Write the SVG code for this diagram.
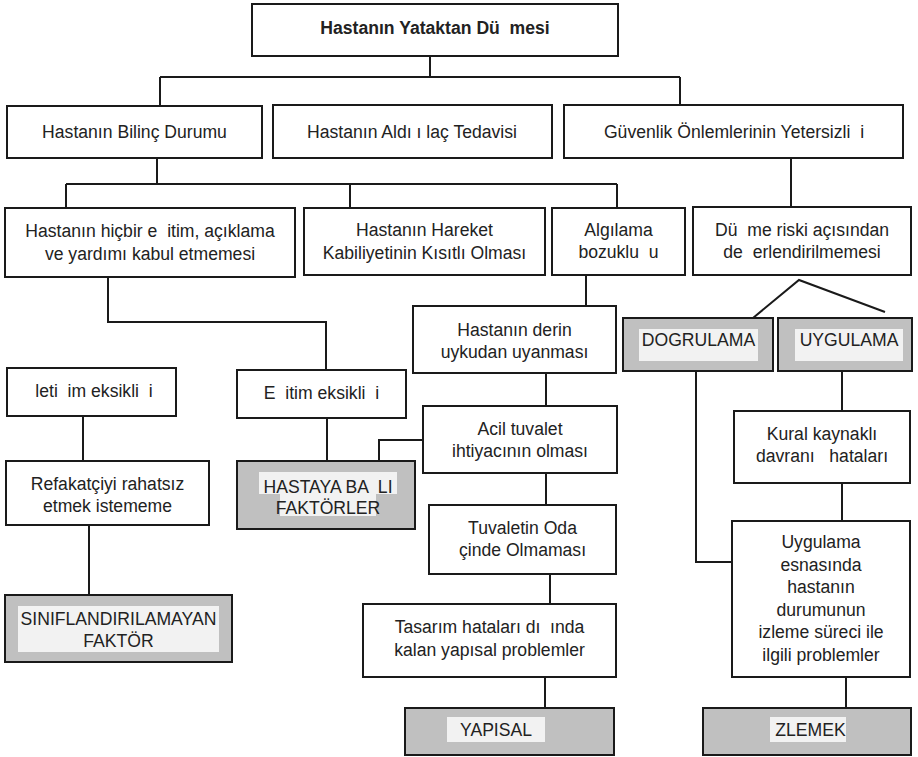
<svg xmlns="http://www.w3.org/2000/svg" width="918" height="757" viewBox="0 0 918 757" xml:space="preserve">
<style>
.box{fill:#fff;stroke:#1a1a1a;stroke-width:2}
.gbox{fill:#c0c0c0;stroke:#1a1a1a;stroke-width:2}
.hl{fill:#f2f2f2}
.t{font-family:"Liberation Sans",Arial,sans-serif;font-size:17.6px;fill:#222;text-anchor:middle;white-space:pre}
.b{font-weight:bold}
.c{fill:none;stroke:#1a1a1a;stroke-width:2}
</style>
<rect width="918" height="757" fill="#fff"/>
<g id="connectors">
<path class="c" d="M430,56 V77 M160,77 H680 M160,77 V106 M680,77 V105"/>
<path class="c" d="M157,158 V184 M66,184 H617 M66,184 V208 M350,184 V208 M617,184 V208"/>
<path class="c" d="M791,158 V207"/>
<path class="c" d="M108,277 V322 H326 V370"/>
<path class="c" d="M327,418 V461"/>
<path class="c" d="M83,416 V461"/>
<path class="c" d="M89,525 V595"/>
<path class="c" d="M586,275 V306"/>
<path class="c" d="M546,373 V406"/>
<path class="c" d="M423,440 H379 V461"/>
<path class="c" d="M546,473 V505"/>
<path class="c" d="M550,574 V604"/>
<path class="c" d="M545,677 V708"/>
<path class="c" d="M753,318 L799,280 L885,312"/>
<path class="c" d="M696,371 V562 H732"/>
<path class="c" d="M842,371 V411"/>
<path class="c" d="M842,483 V521"/>
<path class="c" d="M846,677 V708"/>
</g>
<g id="n-top"><rect class="box" x="252" y="4" width="366" height="52"/><text class="t b" x="435" y="34">Hastanın Yataktan Dü  mesi</text></g>
<g id="n-bilinc"><rect class="box" x="7" y="106" width="255" height="52"/><text class="t" x="134.5" y="138">Hastanın Bilinç Durumu</text></g>
<g id="n-ilac"><rect class="box" x="273" y="105" width="279" height="53"/><text class="t" x="412" y="138">Hastanın Aldı ı laç Tedavisi</text></g>
<g id="n-guvenlik"><rect class="box" x="564" y="105" width="339" height="53"/><text class="t" x="734" y="138">Güvenlik Önlemlerinin Yetersizli  i</text></g>
<g id="n-hicbir"><rect class="box" x="5" y="208" width="290" height="69"/><text class="t" x="150" y="237">Hastanın hiçbir e  itim, açıklama</text><text class="t" x="150" y="259.5">ve yardımı kabul etmemesi</text></g>
<g id="n-hareket"><rect class="box" x="304" y="208" width="241" height="67"/><text class="t" x="424.5" y="236">Hastanın Hareket</text><text class="t" x="424.5" y="258.5">Kabiliyetinin Kısıtlı Olması</text></g>
<g id="n-algilama"><rect class="box" x="552" y="208" width="133" height="67"/><text class="t" x="618.5" y="236">Algılama</text><text class="t" x="618.5" y="258">bozuklu  u</text></g>
<g id="n-dusme"><rect class="box" x="693" y="207" width="218" height="68"/><text class="t" x="802" y="236">Dü  me riski açısından</text><text class="t" x="802" y="258">de  erlendirilmemesi</text></g>
<g id="n-iletisim"><rect class="box" x="7" y="368" width="169" height="48"/><text class="t" x="94" y="397">leti  im eksikli  i</text></g>
<g id="n-egitim"><rect class="box" x="237" y="370" width="169" height="48"/><text class="t" x="321.5" y="399">E  itim eksikli  i</text></g>
<g id="n-derin"><rect class="box" x="413" y="306" width="203" height="67"/><text class="t" x="514.5" y="335.5">Hastanın derin</text><text class="t" x="514.5" y="357.5">uykudan uyanması</text></g>
<g id="n-acil"><rect class="box" x="423" y="406" width="194" height="67"/><text class="t" x="520" y="434.5">Acil tuvalet</text><text class="t" x="520" y="457">ihtiyacının olması</text></g>
<g id="n-hastaya"><rect class="gbox" x="237" y="461" width="178" height="68"/><rect class="hl" x="259" y="472" width="138" height="22"/><rect class="hl" x="280" y="494" width="96" height="22"/><text class="t" x="328" y="492.5">HASTAYA BA  LI</text><text class="t" x="328" y="514">FAKTÖRLER</text></g>
<g id="n-refakat"><rect class="box" x="6" y="461" width="203" height="64"/><text class="t" x="107.5" y="490">Refakatçiyi rahatsız</text><text class="t" x="107.5" y="512">etmek istememe</text></g>
<g id="n-sinif"><rect class="gbox" x="5" y="595" width="227" height="67"/><rect class="hl" x="18" y="606" width="201" height="46"/><text class="t" x="118.5" y="625">SINIFLANDIRILAMAYAN</text><text class="t" x="118.5" y="647">FAKTÖR</text></g>
<g id="n-tuvalet"><rect class="box" x="429" y="505" width="187" height="69"/><text class="t" x="522.5" y="534">Tuvaletin Oda</text><text class="t" x="522.5" y="556">çinde Olmaması</text></g>
<g id="n-tasarim"><rect class="box" x="363" y="604" width="253" height="73"/><text class="t" x="489.5" y="633">Tasarım hataları dı  ında</text><text class="t" x="489.5" y="655.5">kalan yapısal problemler</text></g>
<g id="n-yapisal"><rect class="gbox" x="405" y="708" width="209" height="47"/><rect class="hl" x="447" y="717" width="98" height="25"/><text class="t" x="496" y="736">YAPISAL</text></g>
<g id="n-dogrulama"><rect class="gbox" x="623" y="318" width="150" height="53"/><rect class="hl" x="639" y="329" width="119" height="32"/><text class="t" x="698.5" y="346">DOGRULAMA</text></g>
<g id="n-uygulama"><rect class="gbox" x="778" y="318" width="134" height="53"/><rect class="hl" x="795" y="329" width="108" height="32"/><text class="t" x="849" y="346">UYGULAMA</text></g>
<g id="n-kural"><rect class="box" x="734" y="411" width="176" height="72"/><text class="t" x="822" y="440">Kural kaynaklı</text><text class="t" x="822" y="462">davranı   hataları</text></g>
<g id="n-uygulama-esnasi"><rect class="box" x="732" y="521" width="178" height="156"/><text class="t" x="821" y="548">Uygulama</text><text class="t" x="821" y="570.5">esnasında</text><text class="t" x="821" y="593">hastanın</text><text class="t" x="821" y="615.5">durumunun</text><text class="t" x="821" y="638">izleme süreci ile</text><text class="t" x="821" y="660.5">ilgili problemler</text></g>
<g id="n-izlemek"><rect class="gbox" x="703" y="708" width="208" height="47"/><rect class="hl" x="770" y="717" width="76" height="25"/><text class="t" x="808" y="736"> ZLEMEK</text></g>
</svg>
